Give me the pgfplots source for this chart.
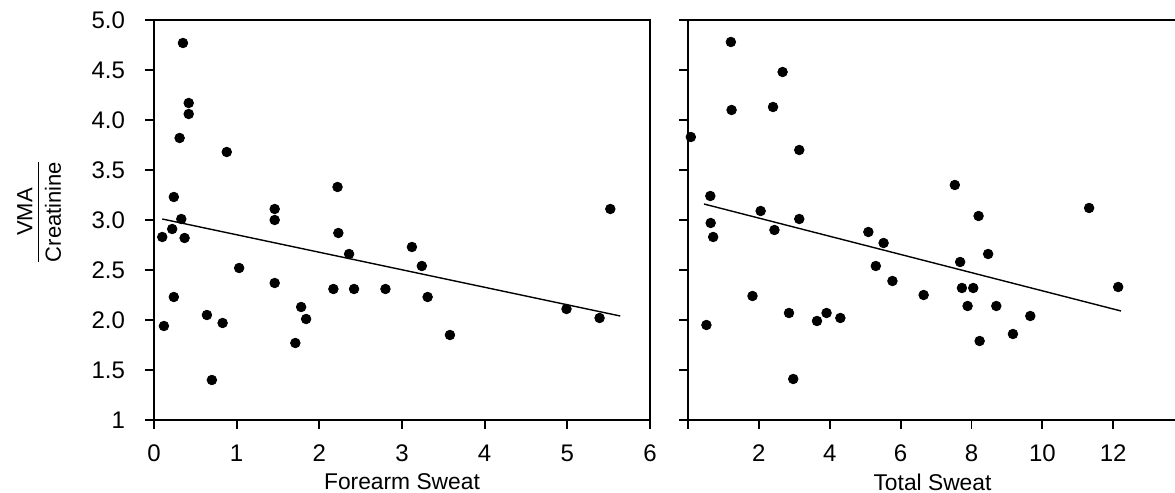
\documentclass[border=0pt]{standalone}
\usepackage{pgfplots}
\pgfplotsset{compat=1.18}
\usepackage{fontspec}
\setmainfont{Liberation Sans}
\begin{document}
\begin{tikzpicture}
\useasboundingbox (0,0) rectangle (587.5pt,246.5pt);
\pgfplotsset{
  panel/.style={
    scale only axis,
    height=200pt,
    ymin=1, ymax=5,
    ytick={1,1.5,2,2.5,3,3.5,4,4.5,5},
    axis line style={line width=0.9pt},
    tick style={line width=0.9pt, black},
    tick align=outside,
    major tick length=4.5pt,
    xtick pos=bottom, ytick pos=left,
    tick label style={font=\fontsize{12}{14}\selectfont},
    xticklabel style={yshift=-4.5pt},
    yticklabel style={xshift=-6.5pt},
    every axis x label/.style={at={(ticklabel cs:0.5)}, anchor=north, yshift=1pt,
      font=\fontsize{11.4}{13}\selectfont},
    clip=false,
  },
  dots/.style={only marks, mark=*, mark size=2.4pt, black},
  fit/.style={black, line width=0.7pt, no marks},
}
\begin{axis}[panel,
  at={(77pt,36.5pt)}, anchor=south west,
  width=248pt,
  xmin=0, xmax=6,
  xtick={0,1,2,3,4,5,6},
  xticklabels={0,1,2,3,4,5,6},
  yticklabels={1,1.5,2.0,2.5,3.0,3.5,4.0,4.5,5.0},
  xlabel={Forearm Sweat},
]
\addplot[dots] coordinates {
(0.35,4.77) (0.42,4.17) (0.42,4.06) (0.31,3.82) (0.88,3.68)
(0.24,3.23) (2.22,3.33) (1.46,3.11) (1.46,3.00) (0.33,3.01)
(0.22,2.91) (0.10,2.83) (0.37,2.82) (2.23,2.87) (2.36,2.66)
(1.03,2.52) (1.46,2.37) (2.17,2.31) (2.42,2.31) (2.80,2.31)
(0.24,2.23) (1.78,2.13) (1.84,2.01) (0.64,2.05) (0.83,1.97)
(0.12,1.94) (1.71,1.77) (0.70,1.40) (3.12,2.73) (3.24,2.54)
(3.31,2.23) (3.58,1.85) (4.99,2.11) (5.39,2.02) (5.52,3.11)
};
\addplot[fit] coordinates {(0.10,3.01) (5.64,2.04)};
\end{axis}
\begin{axis}[panel,
  at={(344pt,36.5pt)}, anchor=south west,
  width=244.5pt,
  xmin=0, xmax=13.8,
  xtick={0,2,4,6,8,10,12},
  xticklabels={,2,4,6,8,10,12},
  yticklabels={},
  xlabel={Total Sweat},
]
\addplot[dots] coordinates {
(1.21,4.78) (2.67,4.48) (2.40,4.13) (1.23,4.10) (0.08,3.83)
(3.14,3.70) (0.63,3.24) (2.05,3.09) (3.14,3.01) (0.64,2.97)
(0.71,2.83) (2.44,2.90) (5.09,2.88) (5.52,2.77) (5.30,2.54)
(5.77,2.39) (1.82,2.24) (2.85,2.07) (3.91,2.07) (4.30,2.02)
(3.64,1.99) (0.52,1.95) (2.97,1.41) (6.65,2.25) (7.53,3.35)
(8.20,3.04) (11.32,3.12) (8.47,2.66) (7.68,2.58) (7.73,2.32)
(8.05,2.32) (12.14,2.33) (7.89,2.14) (8.70,2.14) (9.66,2.04)
(9.17,1.86) (8.23,1.79)
};
\addplot[fit] coordinates {(0.45,3.16) (12.22,2.09)};
\end{axis}
\node[rotate=90, font=\fontsize{11}{13}\selectfont, inner sep=0pt] at (20.75pt,140.5pt)
  {\begin{tabular}{@{}c@{}}VMA\\[-1pt]\hline\rule{0pt}{11pt}Creatinine\end{tabular}};
\end{tikzpicture}
\end{document}
